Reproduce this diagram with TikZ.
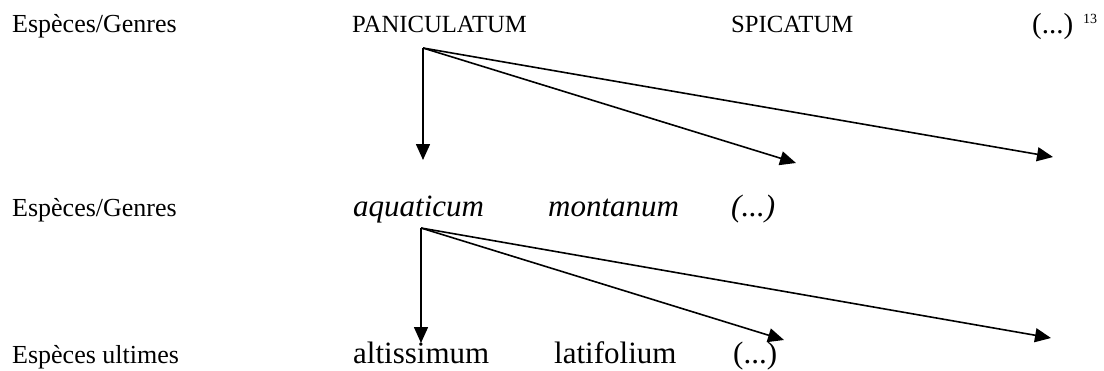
\documentclass[tikz,border=0pt]{standalone}
\usepackage{fontspec}
\setmainfont{Liberation Serif}
\usetikzlibrary{arrows.meta,positioning}

\begin{document}
\begin{tikzpicture}[x=1pt,y=-1pt,
    every node/.style={inner sep=0pt,anchor=base west},
    rowlabel/.style={font=\fontsize{26}{30}\selectfont},
    genus/.style={font=\fontsize{24.7}{30}\selectfont},
    species/.style={font=\fontsize{31}{36}\selectfont\itshape},
    ultimate/.style={font=\fontsize{31}{36}\selectfont},
    branch/.style={-{Triangle[length=16pt,width=14pt]},line width=1.6pt}]
      \useasboundingbox (0,0) rectangle (1104,370);
      \node[rowlabel] (lab1) at (12,32) {Espèces/Genres};
      \node[rowlabel] (lab2) at (12,216) {Espèces/Genres};
      \node[rowlabel] (lab3) at (12,363) {Espèces ultimes};
      \node[genus] (panic) at (352,32) {PANICULATUM};
      \node[genus] (spic) at (731,32) {SPICATUM};
      \node[font=\fontsize{29}{34}\selectfont] (etc1) at (1032,33) {(...)};
      \node[font=\fontsize{14}{16}\selectfont] (note) at (1083,23) {13};
      \node[species] (aqua) at (353,216) {aquaticum};
      \node[species] (mont) at (548,216) {montanum};
      \node[species] (etc2) at (731,216) {(...)};
      \node[ultimate] (alti) at (353,363) {altissimum};
      \node[ultimate] (lati) at (554,363) {latifolium};
      \node[ultimate] (etc3) at (733,363) {(...)};
      \coordinate (hub1) at (423,48);
      \coordinate (tip1a) at (423,160);
      \coordinate (tip1b) at (796,163);
      \coordinate (tip1c) at (1053,157);
      \coordinate (hub2) at (421,228);
      \coordinate (tip2a) at (421,343);
      \coordinate (tip2b) at (784,340);
      \coordinate (tip2c) at (1051,338);
      \draw[branch] (hub1)--(tip1a);
      \draw[branch] (hub1)--(tip1b);
      \draw[branch] (hub1)--(tip1c);
      \draw[branch] (hub2)--(tip2a);
      \draw[branch] (hub2)--(tip2b);
      \draw[branch] (hub2)--(tip2c);
    \end{tikzpicture}
\end{document}
